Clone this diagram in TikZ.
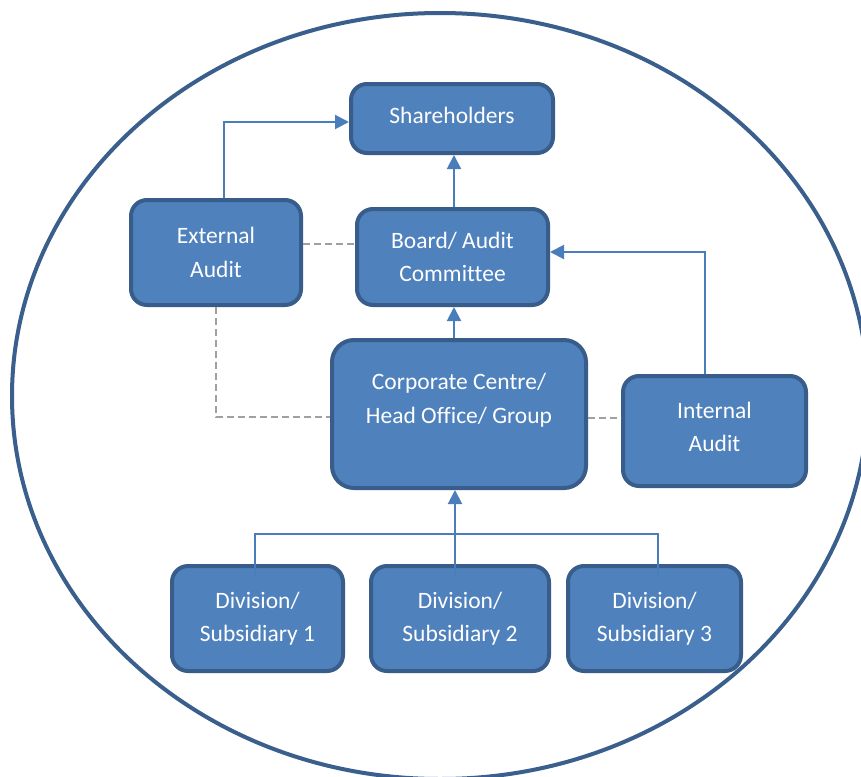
\documentclass[tikz,border=0pt]{standalone}
\usepackage{fontspec}
\setmainfont{Carlito}[Ligatures=CommonOff]
\usetikzlibrary{arrows.meta,calc}
\definecolor{boxfill}{HTML}{4F81BD}
\definecolor{boxline}{HTML}{385D8A}
\definecolor{arrcol}{HTML}{4A7EBB}
\definecolor{ovalcol}{HTML}{3A5F8C}
\definecolor{dashcol}{HTML}{A0A0A0}
\tikzset{
  orgbox/.style={draw=boxline, fill=boxfill, line width=4pt, rounded corners=16pt,
    text=white, align=center, inner sep=0pt,
    font=\fontsize{23.5}{33.5}\selectfont},
  arr/.style={draw=arrcol, line width=2pt, -{Triangle[length=14pt,width=14pt]}},
  conn/.style={draw=arrcol, line width=2pt},
  dashln/.style={draw=dashcol, line width=2pt, dash pattern=on 7pt off 4pt},
  txt/.style={text=white, align=center, font=\fontsize{23.5}{33.5}\selectfont, inner sep=0pt}
}
\begin{document}
\begin{tikzpicture}[x=1pt,y=-1pt]
\useasboundingbox (0,0) rectangle (861,776);
\fill[white] (0,0) rectangle (861,776);
\draw[ovalcol, line width=4pt] (440,396) ellipse [x radius=428pt, y radius=383pt];

\node[orgbox, minimum width=202pt, minimum height=69pt] (sh) at (452,118.5) {};
\node[txt] (shtxt) at ([yshift=3pt]sh.center) {Shareholders};
\node[orgbox, minimum width=170pt, minimum height=105pt] (ext) at (216,252.5) {External\\Audit};
\node[orgbox, minimum width=191pt, minimum height=96pt] (board) at (452.5,257) {Board/ Audit\\Committee};
\node[orgbox, minimum width=254pt, minimum height=148pt, rounded corners=22pt] (corp) at (459,414) {};
\node[txt] (corptxt) at ([yshift=14pt]corp.center) {Corporate Centre/\\Head Office/ Group};
\node[orgbox, minimum width=183pt, minimum height=110pt] (int) at (714.5,431) {};
\node[txt] (inttxt) at ([yshift=4pt]int.center) {Internal\\Audit};
\node[orgbox, minimum width=171pt, minimum height=105pt] (d1) at (257.5,618.5) {Division/\\Subsidiary 1};
\node[orgbox, minimum width=178pt, minimum height=105pt] (d2) at (460,618.5) {Division/\\Subsidiary 2};
\node[orgbox, minimum width=173pt, minimum height=105pt] (d3) at (654.5,618.5) {Division/\\Subsidiary 3};

\coordinate (bus) at (0,534);
\coordinate (dA) at (0,244);

% solid arrows
\draw[arr] ([xshift=8pt]ext.north) |- ([yshift=-3.5pt]sh.west);
\draw[arr] ([xshift=1.5pt]board.north) -- ([xshift=1.5pt]board.north |- sh.south);
\draw[arr] ([xshift=1.5pt]board.south |- corp.north) -- ([xshift=1.5pt]board.south);
\draw[arr] ([xshift=-10pt]int.north) |- ([yshift=5pt]board.east);
\draw[arr] ([xshift=-5pt,yshift=-12pt]d2.north) -- ([xshift=-5pt]d2.north |- corp.south);
\draw[conn] ([xshift=-2.5pt,yshift=-12pt]d1.north) -- ([xshift=-2.5pt]d1.north |- bus)
  -- ([xshift=3.5pt]d3.north |- bus) -- ([xshift=3.5pt,yshift=-12pt]d3.north);

% dashed links
\draw[dashln] (ext.east |- dA) -- (board.west |- dA);
\draw[dashln] (ext.south) |- ([yshift=-3pt]corp.west);
\draw[dashln] ([yshift=-4pt]corp.east) -- ([yshift=-4pt]int.west |- corp.east);
\end{tikzpicture}
\end{document}
